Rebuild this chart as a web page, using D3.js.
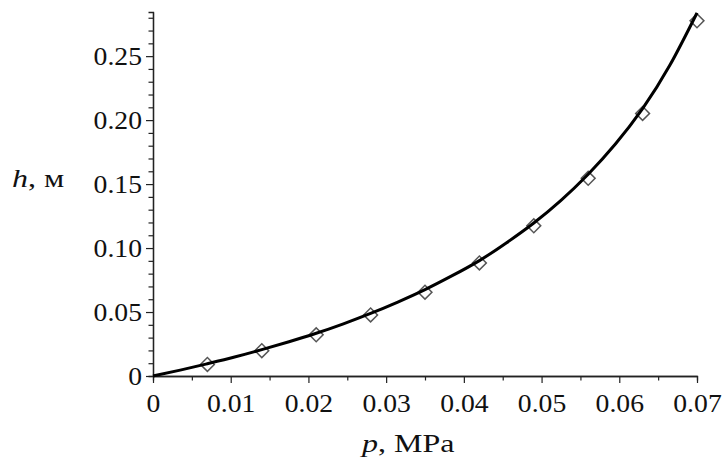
<!DOCTYPE html>
<html>
<head>
<meta charset="utf-8">
<script src="https://cdn.jsdelivr.net/npm/d3@7"></script>
<style>
  html, body { margin: 0; padding: 0; background: #fff; }
  svg { display: block; }
  text { font-family: "Liberation Serif", "Times New Roman", serif; fill: #111; }
</style>
</head>
<body>
<svg id="chart" width="724" height="459"></svg>
<script>
// Measured points: pressure p (MPa) and height h (m)
const measuredP = [0.007, 0.014, 0.021, 0.028, 0.035, 0.042, 0.049, 0.056, 0.063, 0.070];
const measuredH = [0.0090, 0.0198, 0.0322, 0.0477, 0.0655, 0.0884, 0.1174, 0.1545, 0.2052, 0.2776];

// Model curve h(p)
const curveP = [0, 0.0035, 0.007, 0.0105, 0.014, 0.0175, 0.021, 0.0245, 0.028, 0.0315, 0.035,
                0.0385, 0.042, 0.0455, 0.049, 0.0525, 0.056, 0.0595, 0.063, 0.0665, 0.070];
const curveH = [0, 0.0046, 0.0096, 0.0148, 0.0206, 0.0268, 0.0334, 0.0408, 0.0489, 0.0578, 0.0675,
                0.0784, 0.0902, 0.1042, 0.1196, 0.1373, 0.1577, 0.1813, 0.2090, 0.2428, 0.2838];

// Axis ticks
const xMajorTicks = [0, 0.01, 0.02, 0.03, 0.04, 0.05, 0.06, 0.07];
const xTickLabels = ["0", "0.01", "0.02", "0.03", "0.04", "0.05", "0.06", "0.07"];
const xMinorTicks = [0.005, 0.015, 0.025, 0.035, 0.045, 0.055, 0.065];
const yMajorTicks = [0, 0.05, 0.10, 0.15, 0.20, 0.25];
const yTickLabels = ["0", "0.05", "0.10", "0.15", "0.20", "0.25"];
const yMinorTicks = [0.01, 0.02, 0.03, 0.04, 0.06, 0.07, 0.08, 0.09, 0.11, 0.12, 0.13, 0.14,
                     0.16, 0.17, 0.18, 0.19, 0.21, 0.22, 0.23, 0.24, 0.26, 0.27, 0.28];

const svg = d3.select("#chart");
const x = d3.scaleLinear().domain([0, 0.07]).range([153, 697]);
const y = d3.scaleLinear().domain([0, 0.2845]).range([376, 12]);

const fontSize = 24.5;
const stretch = 1.13;
const titleSize = 25;
const titleStretch = 1.28;

// x axis
const xAxis = svg.append("g").attr("transform", `translate(0,${y(0)})`);
xAxis.call(d3.axisBottom(x).tickValues(xMinorTicks).tickSize(4.5).tickFormat(""));
const xMajor = svg.append("g").attr("transform", `translate(0,${y(0)})`)
  .call(d3.axisBottom(x).tickValues(xMajorTicks).tickSize(7).tickSizeOuter(0)
    .tickFormat((d, i) => xTickLabels[i]));
xMajor.selectAll(".tick text")
  .attr("y", 0).attr("dy", 0)
  .attr("transform", "translate(0,36) scale(" + stretch + ",1)")
  .style("font-size", fontSize + "px")
  .style("font-family", "'Liberation Serif', serif")
  .attr("fill", "#111");

// y axis
const yAxis = svg.append("g").attr("transform", `translate(${x(0)},0)`);
yAxis.call(d3.axisLeft(y).tickValues(yMinorTicks).tickSize(4.5).tickFormat(""));
const yMajor = svg.append("g").attr("transform", `translate(${x(0)},0)`)
  .call(d3.axisLeft(y).tickValues(yMajorTicks).tickSize(7).tickSizeOuter(0)
    .tickFormat((d, i) => yTickLabels[i]));
yMajor.selectAll(".tick text")
  .attr("x", 0).attr("dy", 0)
  .attr("transform", "translate(-11,8.5) scale(" + stretch + ",1)")
  .style("font-size", fontSize + "px")
  .style("font-family", "'Liberation Serif', serif")
  .attr("fill", "#111");

svg.selectAll(".domain").attr("stroke", "#222").attr("stroke-width", 1.3);
svg.selectAll(".tick line").attr("stroke", "#222").attr("stroke-width", 1.2);

// Measured points as open diamonds
const diamond = d3.symbol().type(d3.symbolSquare).size(96);
svg.append("g").selectAll("path")
  .data(measuredP.map((p, i) => [p, measuredH[i]]))
  .join("path")
  .attr("d", diamond)
  .attr("transform", d => `translate(${x(d[0])},${y(d[1])}) rotate(45)`)
  .attr("fill", "none")
  .attr("stroke", "#555")
  .attr("stroke-width", 1.5);

// Model curve
const line = d3.line().x(d => x(d[0])).y(d => y(d[1])).curve(d3.curveNatural);
svg.append("path")
  .datum(curveP.map((p, i) => [p, curveH[i]]))
  .attr("d", line)
  .attr("fill", "none")
  .attr("stroke", "#000")
  .attr("stroke-width", 3);

// Axis titles
const yTitle = svg.append("text")
  .attr("transform", "translate(12,187) scale(" + titleStretch + ",1)")
  .style("font-size", titleSize + "px");
yTitle.append("tspan").style("font-style", "italic").text("h");
yTitle.append("tspan").text(", м");

const xTitle = svg.append("text")
  .attr("transform", "translate(362,452) scale(" + titleStretch + ",1)")
  .style("font-size", titleSize + "px");
xTitle.append("tspan").style("font-style", "italic").text("p");
xTitle.append("tspan").text(", MPa");
</script>
</body>
</html>
